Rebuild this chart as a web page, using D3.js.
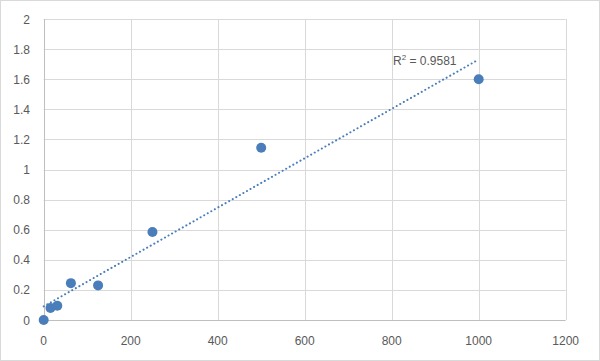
<!DOCTYPE html>
<html><head><meta charset="utf-8">
<script src="https://cdn.jsdelivr.net/npm/d3@7"></script>
<style>body{margin:0;background:#fff}svg{display:block}</style>
</head><body>
<svg id="c" width="600" height="361"></svg>
<script>
const xValues = [0, 15.6, 31.25, 62.5, 125, 250, 500, 1000];
const yValues = [0, 0.08, 0.095, 0.245, 0.23, 0.585, 1.145, 1.6];
const xTicks = [0, 200, 400, 600, 800, 1000, 1200];
const yTicks = [0, 0.2, 0.4, 0.6, 0.8, 1, 1.2, 1.4, 1.6, 1.8, 2];
const r2Label = "0.9581";

const svg = d3.select("#c");
const font = "'Liberation Sans', Arial, sans-serif";
svg.append("rect").attr("x",0.5).attr("y",0.5).attr("width",599).attr("height",360)
  .attr("fill","#fff").attr("stroke","#d9d9d9");

const x = d3.scaleLinear().domain([0,1200]).range([43.7,565.7]);
const y = d3.scaleLinear().domain([0,2]).range([320,19]);

// gridlines
svg.append("g").selectAll("line").data(yTicks).join("line")
  .attr("x1",x(0)).attr("x2",x(1200)).attr("y1",d=>Math.round(y(d))+0.5).attr("y2",d=>Math.round(y(d))+0.5)
  .attr("stroke",d=>d===0?"#bfbfbf":"#d9d9d9");
svg.append("g").selectAll("line").data(xTicks).join("line")
  .attr("y1",y(0)).attr("y2",y(2)).attr("x1",d=>Math.round(x(d))+0.5).attr("x2",d=>Math.round(x(d))+0.5)
  .attr("stroke",d=>d===0?"#bfbfbf":"#d9d9d9");

// tick labels
svg.append("g").selectAll("text").data(yTicks).join("text")
  .attr("x",30).attr("y",d=>y(d)+4.5).attr("text-anchor","end")
  .attr("font-family",font).attr("font-size",12).attr("fill","#595959")
  .text(d=>d3.format("~g")(d));
svg.append("g").selectAll("text").data(xTicks).join("text")
  .attr("x",d=>x(d)).attr("y",345).attr("text-anchor","middle")
  .attr("font-family",font).attr("font-size",12).attr("fill","#595959")
  .text(d=>d);

// regression
const n = xValues.length;
const mx = d3.mean(xValues), my = d3.mean(yValues);
let sxy=0, sxx=0;
for(let i=0;i<n;i++){sxy+=(xValues[i]-mx)*(yValues[i]-my);sxx+=(xValues[i]-mx)**2;}
const slope = sxy/sxx, icpt = my - slope*mx;
const xr = d3.extent(xValues);
svg.append("line")
  .attr("x1",x(xr[0])).attr("y1",y(icpt+slope*xr[0]))
  .attr("x2",x(xr[1])).attr("y2",y(icpt+slope*xr[1]))
  .attr("stroke","#4a7ebb").attr("stroke-width",2).attr("stroke-dasharray","0.1 4")
  .attr("stroke-linecap","round");

// points
svg.append("g").selectAll("circle").data(xValues.map((v,i)=>[v,yValues[i]])).join("circle")
  .attr("cx",d=>x(d[0])).attr("cy",d=>y(d[1])).attr("r",5).attr("fill","#4a7ebb");

// R² label
const t = svg.append("text").attr("x",393).attr("y",65)
  .attr("font-family",font).attr("font-size",12).attr("fill","#595959");
t.append("tspan").text("R");
t.append("tspan").attr("font-size",8).attr("dy",-5).text("2");
t.append("tspan").attr("dy",5).text(" = " + r2Label);
</script>
</body></html>
